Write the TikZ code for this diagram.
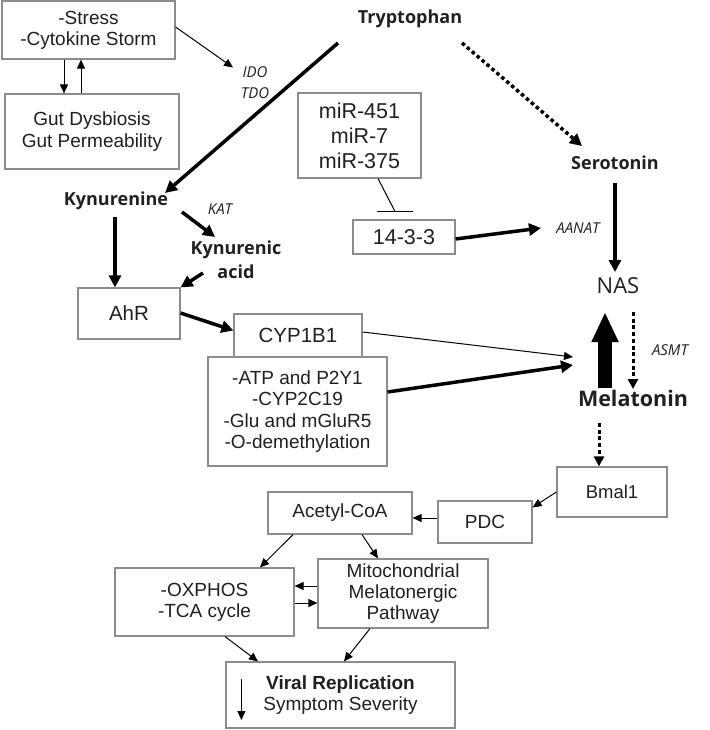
\documentclass[tikz,border=0pt]{standalone}
\usepackage{fontspec}
\setmainfont{Liberation Sans}
\newfontfamily\osf{Open Sans}
\usetikzlibrary{arrows.meta,calc}
\definecolor{boxgray}{RGB}{140,140,140}
\definecolor{ink}{RGB}{32,32,32}
\begin{document}
\begin{tikzpicture}[x=1pt,y=-1pt,
  box/.style={draw=boxgray,line width=1.2pt,fill=white,inner sep=0pt,align=center,text=ink,font=\fontsize{19}{21.3}\selectfont},
  lbl/.style={inner sep=0pt,text=ink,text height=0.72em,text depth=0pt},
  bl/.style={lbl,font=\osf\bfseries\fontsize{18}{24}\selectfont},
  itl/.style={inner sep=0pt,text=ink,align=center,font=\osf\itshape\fontsize{15}{21}\selectfont},
  arrA/.style={line width=1pt,-{Triangle[length=9pt,width=8pt]}},
  arrB/.style={line width=3.5pt,-{Triangle[length=12pt,width=12pt]}},
  dotsB/.style={line width=3.5pt,dash pattern=on 3.5pt off 3pt,-{Triangle[length=12pt,width=12pt]}},
  dotsC/.style={line width=3pt,dash pattern=on 4pt off 2.7pt,-{Triangle[length=10pt,width=10pt]}},
  bigarr/.style={line width=14pt,-{Triangle[length=30pt,width=25pt]}},
]
\useasboundingbox (0,0) rectangle (709,730);

% boxes
\node[box,minimum width=173pt,minimum height=58pt] (stress) at (88.5,30) {-Stress\\-Cytokine Storm};
\node[box,minimum width=174pt,minimum height=75pt] (gut) at (92,131.5) {Gut Dysbiosis\\Gut Permeability};
\node[box,minimum width=123pt,minimum height=85pt,font=\fontsize{21.5}{25}\selectfont] (mir) at (359.5,135.5) {miR-451\\miR-7\\miR-375};
\node[box,minimum width=102pt,minimum height=34pt,font=\fontsize{21.5}{25}\selectfont] (t1433) at (404,237) {14-3-3};
\node[box,minimum width=102pt,minimum height=51pt,font=\fontsize{20.5}{23}\selectfont] (ahr) at (129,313.5) {AhR};
\node[box,minimum width=128pt,minimum height=43pt,font=\fontsize{20.5}{23}\selectfont] (cyp) at (298,335.5) {CYP1B1};
\node[box,minimum width=179pt,minimum height=109pt] (atp) at (297.5,411.5) {-ATP and P2Y1\\-CYP2C19\\-Glu and mGluR5\\-O-demethylation};
\node[box,minimum width=110pt,minimum height=50pt,font=\fontsize{18.5}{21}\selectfont] (bmal) at (612,492) {Bmal1};
\node[box,minimum width=94pt,minimum height=42pt] (pdc) at (485,522) {PDC};
\node[box,minimum width=144pt,minimum height=42pt] (acetyl) at (340,513) {Acetyl-CoA};
\node[box,minimum width=179pt,minimum height=68pt] (ox) at (204.5,602) {-OXPHOS\\-TCA cycle};
\node[box,minimum width=170pt,minimum height=69pt] (mito) at (403,593.5) {Mitochondrial\\Melatonergic\\Pathway};
\node[box,minimum width=229pt,minimum height=66pt] (viral) at (340.5,695) {\textbf{Viral Replication}\\Symptom Severity};

% labels
\node[bl] (tryp) at (410,20) {Tryptophan};
\node[bl] (sero) at (615,166) {Serotonin};
\node[bl] (kyn) at (116,202) {Kynurenine};
\node[inner sep=0pt,text=ink,align=center,font=\osf\bfseries\fontsize{18}{24}\selectfont] (kynac) at (236,260) {Kynurenic\\acid};
\node[itl] (ido) at (255,82.5) {IDO\\TDO};
\node[itl] (kat) at (220,209) {KAT};
\node[itl] (aanat) at (578,228) {AANAT};
\node[itl] (asmt) at (670,350) {ASMT};
\node[lbl,font=\osf\fontsize{22}{26}\selectfont] (nas) at (618,290) {NAS};
\node[lbl,font=\osf\bfseries\fontsize{21.5}{26}\selectfont] (mel) at (633,403) {Melatonin};

% connectors
\draw[arrA] ([yshift=3pt]stress.east) -- ($(ido)+(-22,-15)$);
\draw[arrA] ([xshift=-24.5pt]stress.south) -- ([xshift=-24.5pt]stress.south |- gut.north);
\draw[arrA] ([xshift=-11pt]gut.north) -- ([xshift=-11pt]gut.north |- stress.south);
\draw[arrB] ($(tryp)+(-72,23)$) -- ($(kyn)+(49,-9)$);
\draw[dotsB] ($(tryp)+(52,23)$) -- ($(sero)+(-33,-20)$);
\draw[arrB] ($(sero)+(0,17)$) -- ($(nas)+(-3,-18)$);
\coordinate (inh) at ($(t1433.north)+(-9,-8)$);
\draw[line width=1pt] ([xshift=18.5pt]mir.south) -- (inh);
\draw[line width=1pt] ($(inh)+(-18,0)$) -- ($(inh)+(18,0)$);
\draw[arrB] ([yshift=-2pt]t1433.east) -- ($(aanat)+(-37,0)$);
\draw[arrB] ($(kyn)+(66,10)$) -- ($(kynac)+(-21,-23)$);
\draw[arrB] ($(kynac)+(-33,13)$) -- (ahr.north east);
\draw[arrB] ($(kyn)+(-1,15)$) -- ([xshift=-14pt]ahr.north);
\draw[arrB] ([yshift=0.5pt]ahr.east) -- ([yshift=5pt]cyp.west);
\draw[arrA] ([yshift=3.5pt]cyp.east) -- ($(mel)+(-60,-46)$);
\draw[arrB] ([yshift=19.5pt]atp.east) -- ($(mel)+(-60,-38)$);
\draw[bigarr] ($(mel)+(-28,-15)$) -- ($(nas)+(-13,22)$);
\draw[dotsC] ($(nas)+(15,22)$) -- ($(mel)+(0,-14)$);
\draw[dotsC] ($(mel)+(-34,20)$) -- ([xshift=-13pt]bmal.north);
\draw[arrA] (bmal.west) -- ([yshift=-7pt]pdc.north east);
\draw[arrA] ([yshift=4pt]pdc.west) -- ([yshift=4pt]pdc.west -| acetyl.east);
\draw[arrA] ([xshift=-47pt]acetyl.south) -- ([xshift=55.5pt]ox.north);
\draw[arrA] ([xshift=22pt]acetyl.south) -- ([xshift=-25pt]mito.north);
\draw[arrA] ([yshift=7.5pt]mito.west) -- ([yshift=7.5pt]mito.west -| ox.east);
\draw[arrA] ([yshift=-1pt]ox.east) -- ([yshift=-1pt]ox.east -| mito.west);
\draw[arrA] ([xshift=20.5pt]ox.south) -- ([xshift=-82.5pt]viral.north);
\draw[arrA] ([xshift=-33pt]mito.south) -- ([xshift=3.5pt]viral.north);
\draw[arrA] ($(viral.west)+(16,-16)$) -- ($(viral.west)+(16,25)$);
\end{tikzpicture}
\end{document}
